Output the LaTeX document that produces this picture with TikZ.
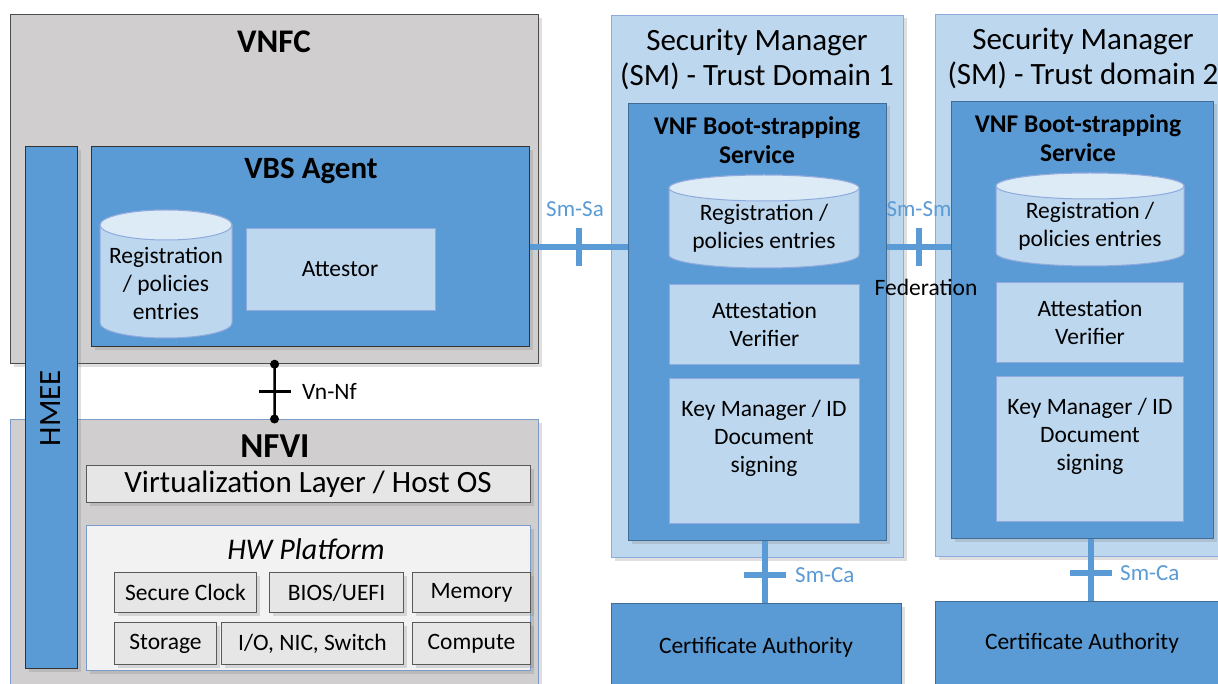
\documentclass[tikz,border=0pt]{standalone}
\usepackage{fontspec}
\setmainfont{Carlito}
\usetikzlibrary{shadows}
\definecolor{gbox}{HTML}{D0CECE}
\definecolor{bbox}{HTML}{5B9BD5}
\definecolor{lbox}{HTML}{BDD7EE}
\definecolor{ltop}{HTML}{DDEBF7}
\definecolor{hwbg}{HTML}{F2F2F2}
\definecolor{sbox}{HTML}{E7E6E6}
\definecolor{sedge}{HTML}{8FAADC}
\definecolor{nedge}{HTML}{7A9CC8}
\newcommand{\fsz}[2]{\fontsize{#1}{#2}\selectfont}
\tikzset{
  box/.style={rectangle, inner sep=0pt, anchor=north west},
  shad/.style={drop shadow={shadow xshift=3pt, shadow yshift=-3pt, opacity=0.25}},
  graybox/.style={box, shad, fill=gbox, draw=black!70, line width=1.2pt},
  bluebox/.style={box, shad, fill=bbox, draw=black!80, line width=1.2pt},
  smouter/.style={box, shad, fill=lbox, draw=sedge, line width=1pt},
  sminner/.style={box, shad, fill=bbox, draw=bbox!70!black, line width=1pt},
  lightbox/.style={box, fill=lbox, draw=sedge, line width=1pt},
  hwbox/.style={box, shad, fill=hwbg, draw=nedge, line width=1pt},
  smallbox/.style={box, shad, fill=sbox, draw=black!65, line width=1pt},
  cylbody/.style={fill=lbox, draw=sedge, line width=1pt},
  cyltop/.style={fill=ltop, draw=sedge, line width=1pt},
  txt/.style={inner sep=0pt, align=center, text=black, font=\fsz{23.5}{28}},
  bluelbl/.style={inner sep=0pt, text=bbox, font=\fsz{23}{26}},
  conn/.style={draw=bbox, line width=6pt},
  bluetick/.style={fill=bbox, inner sep=0pt, minimum width=6pt, minimum height=38pt},
  bluetickh/.style={fill=bbox, inner sep=0pt, minimum width=42pt, minimum height=6pt},
  blacktick/.style={fill=black, inner sep=0pt, minimum width=32pt, minimum height=3pt},
  dot/.style={circle, fill=black, inner sep=0pt, minimum size=9pt},
}
\begin{document}
\begin{tikzpicture}[x=1pt,y=-1pt]
\clip (0,0) rectangle (1218,684);
\fill[white] (0,0) rectangle (1218,684);

% ---------------- left side ----------------
\node[graybox, minimum width=528pt, minimum height=349pt] (vnfc) at (10,14) {};
\node[graybox, draw=nedge, line width=1pt, minimum width=528pt, minimum height=290pt] (nfvi) at (10,419) {};
\node[bluebox, minimum width=52pt, minimum height=522pt] (hmee) at (25,146) {};
\node[bluebox, minimum width=438pt, minimum height=200pt] (vbs) at (91,146) {};
\node[lightbox, minimum width=189pt, minimum height=82pt] (att) at (246,228) {};

\node[txt, font=\bfseries\fsz{33}{36}] (vnfct) at (274,42) {VNFC};
\node[txt, font=\bfseries\fsz{31}{34}] (vbst) at (311,171) {VBS Agent};
\node[txt, rotate=90, font=\fsz{31}{34}] (hmeet) at (51,408) {HMEE};
\node[txt] (attt) at (340,269) {Attestor};

% VBS cylinder
\path[cylbody] (100,225) -- (100,323) arc[start angle=180, end angle=0, x radius=66, y radius=15]
  -- (232,225) arc[start angle=0, end angle=-180, x radius=66, y radius=15] -- cycle;
\path[cyltop] (166,225) ellipse[x radius=66, y radius=15];
\node[txt] (cyl0) at (166,283) {Registration\\/ policies\\entries};

% Vn-Nf connector
\draw[black, line width=2.5pt] (vnfc.south) -- (nfvi.north)
  node[pos=0.5, blacktick] (vntick) {};
\node[dot] (vndot1) at (vnfc.south) {};
\node[dot] (vndot2) at (nfvi.north) {};
\node[txt, anchor=west] (vnlbl) at (302,391) {Vn-Nf};

% NFVI contents
\node[txt, font=\bfseries\fsz{35}{38}] (nfvit) at (275,446) {NFVI};
\node[smallbox, minimum width=444pt, minimum height=37pt] (virt) at (86,465) {};
\node[txt, font=\fsz{31}{34}] (virtt) at (308,484) {Virtualization Layer / Host OS};
\node[hwbox, minimum width=444pt, minimum height=145pt] (hw) at (86,525) {};
\node[txt, font=\itshape\fsz{30}{34}] (hwt) at (306,549) {HW Platform};
\node[smallbox, minimum width=142pt, minimum height=40pt] (clk) at (114,572) {};
\node[smallbox, minimum width=134pt, minimum height=40pt] (bios) at (269,572) {};
\node[smallbox, minimum width=118pt, minimum height=40pt] (mem) at (412,572) {};
\node[smallbox, minimum width=102pt, minimum height=42pt] (stor) at (114,622) {};
\node[smallbox, minimum width=182pt, minimum height=42pt] (io) at (221,622) {};
\node[smallbox, minimum width=118pt, minimum height=42pt] (comp) at (412,622) {};
\node[txt] (clkt) at (clk.center) {Secure Clock};
\node[txt] (biost) at (bios.center) {BIOS/UEFI};
\node[txt] (memt) at (mem.center) {Memory};
\node[txt] (stort) at (stor.center) {Storage};
\node[txt] (iot) at (io.center) {I/O, NIC, Switch};
\node[txt] (compt) at (comp.center) {Compute};

% ---------------- SM 1 ----------------
\node[smouter, minimum width=292pt, minimum height=542pt] (sm1) at (611,15) {};
\node[txt, font=\fsz{31}{35}] (sm1t) at (757,59) {Security Manager\\(SM) - Trust Domain 1};
\node[sminner, minimum width=258pt, minimum height=437pt] (sm1in) at (628,103) {};
\node[txt, font=\bfseries\fsz{25.5}{29}] (sm1int) at (757,140) {VNF Boot-strapping\\Service};
\path[cylbody] (669,188) -- (669,255) arc[start angle=180, end angle=0, x radius=95, y radius=13]
  -- (859,188) arc[start angle=0, end angle=-180, x radius=95, y radius=13] -- cycle;
\path[cyltop] (764,188) ellipse[x radius=95, y radius=13];
\node[txt] (cyl1) at (764,228) {Registration /\\policies entries};
\node[lightbox, minimum width=190pt, minimum height=80pt] (av1) at (669,284) {};
\node[txt] (av1t) at (av1.center) {Attestation\\Verifier};
\node[lightbox, minimum width=190pt, minimum height=145pt] (km1) at (669,378) {};
\node[txt] (km1t) at (764,438) {Key Manager / ID\\Document\\signing};
\node[sminner, minimum width=290pt, minimum height=90pt] (ca1) at (611,603) {};
\node[txt] (ca1t) at (756,647) {Certificate Authority};

% Sm-Sa connector
\draw[conn] (vbs.east) -- (vbs.east -| sm1in.west)
  node[pos=0.5, bluetick] (satick) {};
\node[bluelbl] (salbl) at (575,209) {Sm-Sa};

% Sm-Ca 1
\draw[conn] ([xshift=7pt]sm1in.south) -- ([xshift=7pt]sm1in.south |- ca1.north)
  node[pos=0.55, bluetickh] (ca1tick) {};
\node[bluelbl, anchor=west] (ca1lbl) at (795,575) {Sm-Ca};

% ---------------- SM 2 ----------------
\node[smouter, minimum width=300pt, minimum height=542pt] (sm2) at (935,14) {};
\node[txt, font=\fsz{31}{35}] (sm2t) at (1083,58) {Security Manager\\(SM) - Trust domain 2};
\node[bluelbl] (smlbl) at (919,209) {Sm-Sm};
\node[sminner, minimum width=262pt, minimum height=437pt] (sm2in) at (951,101) {};
\node[txt, font=\bfseries\fsz{25.5}{29}] (sm2int) at (1078,138) {VNF Boot-strapping\\Service};
\path[cylbody] (996,186) -- (996,253) arc[start angle=180, end angle=0, x radius=94, y radius=13]
  -- (1184,186) arc[start angle=0, end angle=-180, x radius=94, y radius=13] -- cycle;
\path[cyltop] (1090,186) ellipse[x radius=94, y radius=13];
\node[txt] (cyl2) at (1090,226) {Registration /\\policies entries};
\node[lightbox, minimum width=187pt, minimum height=80pt] (av2) at (996,282) {};
\node[txt] (av2t) at (av2.center) {Attestation\\Verifier};
\node[lightbox, minimum width=187pt, minimum height=145pt] (km2) at (996,376) {};
\node[txt] (km2t) at (1090,436) {Key Manager / ID\\Document\\signing};
\node[sminner, minimum width=300pt, minimum height=90pt] (ca2) at (935,601) {};
\node[txt] (ca2t) at (1082,643) {Certificate Authority};

% Sm-Ca 2
\draw[conn] ([xshift=8pt]sm2in.south) -- ([xshift=8pt]sm2in.south |- ca2.north)
  node[pos=0.55, bluetickh] (ca2tick) {};
\node[bluelbl, anchor=west] (ca2lbl) at (1120,573) {Sm-Ca};

% Sm-Sm connector
\draw[conn] (vbs.east -| sm1in.east) -- (vbs.east -| sm2in.west)
  node[pos=0.5, bluetick] (smtick) {};
\node[txt] (fedlbl) at (926,287) {Federation};
\end{tikzpicture}
\end{document}
